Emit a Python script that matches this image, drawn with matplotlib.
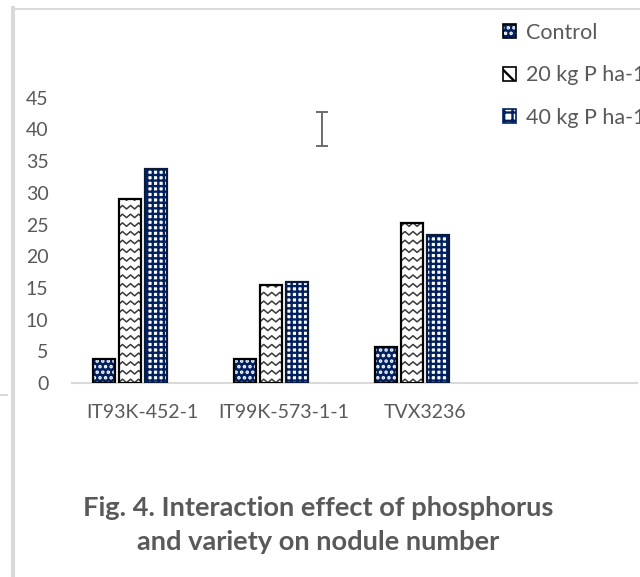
import numpy as np
import matplotlib.pyplot as plt
from matplotlib.lines import Line2D
from matplotlib.patches import Patch

varieties = ["IT93K-452-1", "IT99K-573-1-1", "TVX3236", ""]
control = [3.8, 3.8, 5.7]
p20 = [29.1, 15.5, 25.2]
p40 = [33.8, 16.0, 23.4]
series_labels = ["Control", "20 kg P ha-1", "40 kg P ha-1"]
yticks = [0, 5, 10, 15, 20, 25, 30, 35, 40, 45]
lsd_x, lsd_y, lsd_err = 1.27, 40.06, 2.73

NAVY = "#002060"
TEXT = "#595959"
FRAME = "#d9d9d9"

plt.rcParams["font.family"] = ["Lato", "DejaVu Sans"]
plt.rcParams["hatch.linewidth"] = 1.7

fig = plt.figure(figsize=(6.4, 5.77), dpi=100)
ax = fig.add_axes([72 / 640, 194 / 577, 565 / 640, 285.3 / 577])

x = np.arange(len(varieties))
step = 0.184
width = 0.155
n = len(control)

# control: navy with white dots, black outline on top
pos_c = x[:n] - 1.5 * step
ax.bar(pos_c, control, width, color=NAVY, hatch="...", edgecolor="white", linewidth=0, zorder=2)
ax.bar(pos_c, control, width, fill=False, edgecolor="black", linewidth=1.6, zorder=3)

# 20 kg: white with zigzag lines
pos_20 = x[:n] - 0.5 * step
bars20 = ax.bar(pos_20, p20, width, color="white", linewidth=0, zorder=2)
for rect in bars20:
    x0, w, h = rect.get_x(), rect.get_width(), rect.get_height()
    zx = np.arange(x0 - 0.03, x0 + w + 0.06, 0.0285)
    offs = np.where(np.arange(len(zx)) % 2 == 0, 0.0, -0.55)
    for lvl in np.arange(0.6, h + 1.0, 1.37):
        ln, = ax.plot(zx, lvl + offs, color="#3a3a3a", lw=1.1, zorder=2.5)
        ln.set_clip_path(rect)
ax.bar(pos_20, p20, width, fill=False, edgecolor="black", linewidth=1.6, zorder=3)

# 40 kg: white with navy grid
pos_40 = x[:n] + 0.5 * step
ax.bar(pos_40, p40, width, color="white", hatch="+++", edgecolor=NAVY, linewidth=0, zorder=2)
ax.bar(pos_40, p40, width, fill=False, edgecolor="#0a1a3a", linewidth=1.6, zorder=3)

ax.errorbar([lsd_x], [lsd_y], yerr=[lsd_err], fmt="none", ecolor="#6b6b6b",
            elinewidth=1.4, capsize=4.3, capthick=1.4, zorder=4)

ax.set_xlim(-0.5, len(varieties) - 0.5)
ax.set_ylim(0, 45)
ax.set_xticks(x)
ax.set_xticklabels(varieties, fontsize=14.2)
ax.set_yticks(yticks)
ax.tick_params(axis="both", length=0, labelsize=14, colors=TEXT)
ax.tick_params(axis="y", pad=17)
ax.tick_params(axis="x", pad=15)
for side in ["top", "right", "left"]:
    ax.spines[side].set_visible(False)
ax.spines["bottom"].set_color(FRAME)
ax.spines["bottom"].set_linewidth(1.5)
ax.spines["bottom"].set_zorder(1)

handles = [
    (Patch(facecolor=NAVY, hatch="...", edgecolor="white", linewidth=0),
     Patch(fill=False, edgecolor="black", linewidth=1.2)),
    Patch(facecolor="white", hatch="\\\\", edgecolor="black", linewidth=1.2),
    (Patch(facecolor="white", hatch="++", edgecolor=NAVY, linewidth=0),
     Patch(fill=False, edgecolor=NAVY, linewidth=1.2)),
]
fig.legend(handles, series_labels, loc="upper left", bbox_to_anchor=(503 / 640, 1 - 23 / 577),
           frameon=False, fontsize=15.5, labelcolor=TEXT, handlelength=0.62, handleheight=0.62,
           handletextpad=0.45, labelspacing=1.04, borderaxespad=0, borderpad=0)

# frame lines of the surrounding figure box
fig.add_artist(Line2D([12.5 / 640, 12.5 / 640], [0, 1 - 8 / 577], color=FRAME, lw=2.9))
fig.add_artist(Line2D([14 / 640, 1], [1 - 8.5 / 577, 1 - 8.5 / 577], color=FRAME, lw=1.4))
fig.add_artist(Line2D([0, 7 / 640], [1 - 394.5 / 577, 1 - 394.5 / 577], color=FRAME, lw=1.4))

fig.text(318 / 640, 1 - 516 / 577, "Fig. 4. Interaction effect of phosphorus", ha="center",
         va="baseline", fontsize=19.6, fontweight="bold", color=TEXT)
fig.text(318 / 640, 1 - 550 / 577, "and variety on nodule number", ha="center",
         va="baseline", fontsize=19.6, fontweight="bold", color=TEXT)

fig.savefig("out.png", dpi=100)
